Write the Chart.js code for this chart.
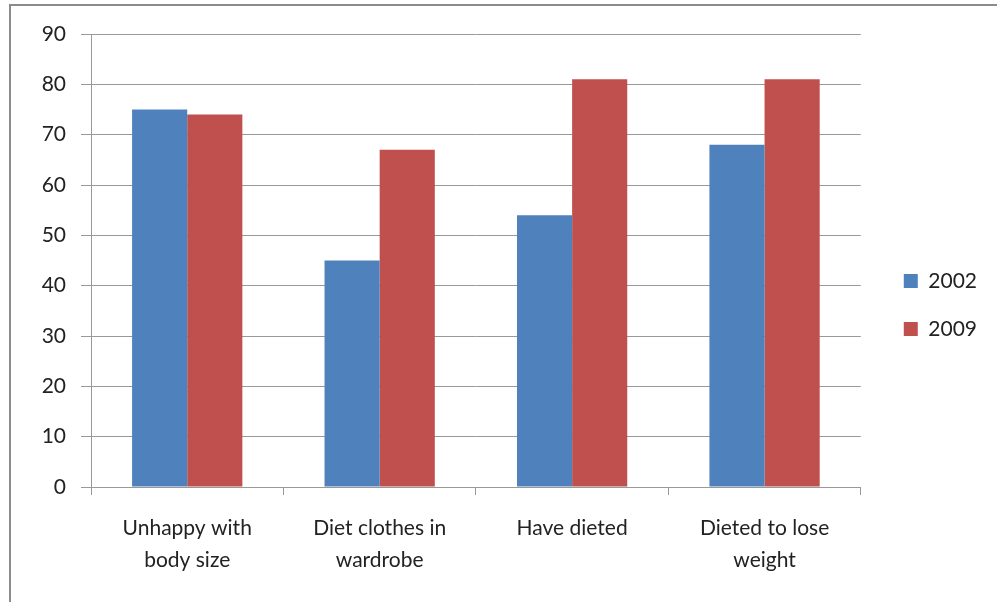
<!DOCTYPE html>
<html>
<head>
<meta charset="utf-8">
<script src="https://cdn.jsdelivr.net/npm/chart.js@4"></script>
<style>
  body { margin: 0; background: #fff; overflow: hidden; }
  #frame { position: absolute; left: 9px; top: 4px; width: 1100px; height: 700px; border: 2px solid #8c8c8c; }
  #wrap { position: absolute; left: 0; top: 0; width: 997px; height: 602px; }
</style>
</head>
<body>
<div id="frame"></div>
<div id="wrap"><canvas id="chart"></canvas></div>
<script>
const categories = [['Unhappy with', 'body size'], ['Diet clothes in', 'wardrobe'], 'Have dieted', ['Dieted to lose', 'weight']];
const values2002 = [75, 45, 54, 68];
const values2009 = [74, 67, 81, 81];
const seriesNames = ['2002', '2009'];

const font = "Lato, 'Open Sans', sans-serif";

// push the legend a little further from the plot, like the original
const legendShift = {
    id: 'legendShift',
    afterLayout(chart) {
        if (chart.legend) {
            chart.legend.left += 16;
            chart.legend.right += 16;
        }
    }
};

new Chart(document.getElementById('chart'), {
    type: 'bar',
    data: {
        labels: categories,
        datasets: [
            { label: seriesNames[0], data: values2002, backgroundColor: '#4f81bd', categoryPercentage: 0.573, barPercentage: 1.0 },
            { label: seriesNames[1], data: values2009, backgroundColor: '#c0504d', categoryPercentage: 0.573, barPercentage: 1.0 }
        ]
    },
    options: {
        responsive: true,
        maintainAspectRatio: false,
        animation: false,
        layout: { padding: { left: 0, top: 34, right: 26, bottom: 26 } },
        plugins: {
            tooltip: { enabled: false },
            legend: {
                position: 'right',
                labels: {
                    boxWidth: 14,
                    boxHeight: 14,
                    padding: 27,
                    color: '#222',
                    font: { family: font, size: 21 }
                }
            }
        },
        scales: {
            x: {
                grid: { drawOnChartArea: false, tickLength: 8, color: '#999' },
                border: { color: '#999' },
                ticks: { color: '#222', padding: 17, font: { family: font, size: 21, lineHeight: 1.52 }, maxRotation: 0 },
                afterFit: s => { s.height = 89; }
            },
            y: {
                min: 0,
                max: 90,
                ticks: { stepSize: 10, color: '#222', padding: 15, font: { family: font, size: 21 } },
                grid: { color: '#999', tickLength: 10 },
                border: { color: '#999' },
                afterFit: s => { s.width = 91; }
            }
        }
    },
    plugins: [legendShift]
});
</script>
</body>
</html>
